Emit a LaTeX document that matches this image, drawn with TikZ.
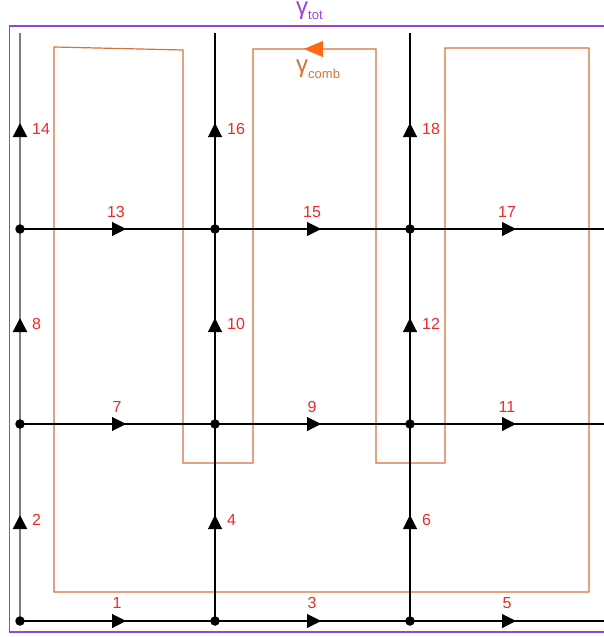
\documentclass[tikz,border=0pt]{standalone}
\usepackage{fontspec}
\setmainfont{Liberation Sans}
\usetikzlibrary{arrows.meta,decorations.markings}

\definecolor{numred}{RGB}{240,40,40}
\definecolor{combor}{RGB}{210,115,60}
\definecolor{combtip}{RGB}{255,105,20}
\definecolor{totpurple}{RGB}{150,70,210}
\definecolor{axisgray}{RGB}{125,125,125}

\tikzset{
  dot/.style={circle,fill=black,inner sep=0pt,minimum size=9.5pt},
  wire/.style={black,line width=1.1pt},
  leftwire/.style={axisgray,line width=2.2pt},
  flow/.style={postaction={decorate},decoration={markings,
      mark=at position 106pt with {\arrow[black]{Triangle[length=14pt,width=14pt]}}}},
  num/.style={text=numred,font=\fontsize{16}{16}\selectfont,inner sep=0pt},
  hnum/.style={num,anchor=center},
  vnum/.style={num,anchor=west},
  comb/.style={combor,line width=1.2pt,line join=miter},
}

\begin{document}
\begin{tikzpicture}[x=1pt,y=-1pt]
\useasboundingbox (0,0) rectangle (604,637);

% grid points and free ends
\foreach \c/\xx in {1/20,2/215,3/410}{
  \foreach \r/\yy in {1/621,2/424,3/229}{
    \coordinate (p\c\r) at (\xx,\yy);
  }
  \coordinate (top\c) at (\xx,33);
}
\foreach \r/\yy in {1/621,2/424,3/229}{
  \coordinate (end\r) at (604,\yy);
}

% outer loop gamma_tot
\draw[totpurple,line width=1.6pt] (604,26) -- (9.5,26) -- (9.5,632) -- (604,632);
\node[text=totpurple,font=\fontsize{24}{24}\selectfont,anchor=base west,inner sep=0pt]
  (gtot) at (296,14.5) {γ\raisebox{-5.5pt}{\fontsize{13}{13}\selectfont tot}};

% comb-shaped loop gamma_comb
\draw[comb] (54,47) -- (183,50) -- (183,463) -- (253,463) -- (253,49)
  -- (376,49) -- (376,463) -- (445,463) -- (445,48) -- (589,48)
  -- (589,592) -- (54,592) -- cycle;
\path[postaction={decorate},decoration={markings,
    mark=at position 72pt with {\arrow[combtip]{Triangle[length=19pt,width=16pt]}}}]
  (376,49) -- (253,49);
\node[text=combor,font=\fontsize{24}{24}\selectfont,anchor=base west,inner sep=0pt]
  (gcomb) at (296,72.5) {γ\raisebox{-6pt}{\fontsize{13}{13}\selectfont comb}};

% horizontal edges
\draw[wire,flow] (p11) -- (p21);
\draw[wire,flow] (p21) -- (p31);
\draw[wire,flow] (p31) -- (end1);
\draw[wire,flow] (p12) -- (p22);
\draw[wire,flow] (p22) -- (p32);
\draw[wire,flow] (p32) -- (end2);
\draw[wire,flow] (p13) -- (p23);
\draw[wire,flow] (p23) -- (p33);
\draw[wire,flow] (p33) -- (end3);

% vertical edges
\draw[leftwire,flow] (p11) -- (p12);
\draw[leftwire,flow] (p12) -- (p13);
\draw[leftwire,flow] (p13) -- (top1);
\draw[wire,flow] (p21) -- (p22);
\draw[wire,flow] (p22) -- (p23);
\draw[wire,flow] (p23) -- (top2);
\draw[wire,flow] (p31) -- (p32);
\draw[wire,flow] (p32) -- (p33);
\draw[wire,flow] (p33) -- (top3);

% junctions
\foreach \c in {1,2,3}{
  \foreach \r in {1,2,3}{
    \node[dot] (n\c\r) at (p\c\r) {};
  }
}

% edge numbers, horizontal
\node[hnum] (l1)  at (117,603) {1};
\node[hnum] (l3)  at (312,603) {3};
\node[hnum] (l5)  at (507,603) {5};
\node[hnum] (l7)  at (117,407) {7};
\node[hnum] (l9)  at (312,407) {9};
\node[hnum] (l11) at (507,407) {11};
\node[hnum] (l13) at (116,212) {13};
\node[hnum] (l15) at (312,212) {15};
\node[hnum] (l17) at (507,212) {17};

% edge numbers, vertical
\node[vnum] (l2)  at (32,520) {2};
\node[vnum] (l4)  at (227,520) {4};
\node[vnum] (l6)  at (422,520) {6};
\node[vnum] (l8)  at (32,324) {8};
\node[vnum] (l10) at (227,324) {10};
\node[vnum] (l12) at (422,324) {12};
\node[vnum] (l14) at (32,129) {14};
\node[vnum] (l16) at (227,129) {16};
\node[vnum] (l18) at (422,129) {18};
\end{tikzpicture}
\end{document}
